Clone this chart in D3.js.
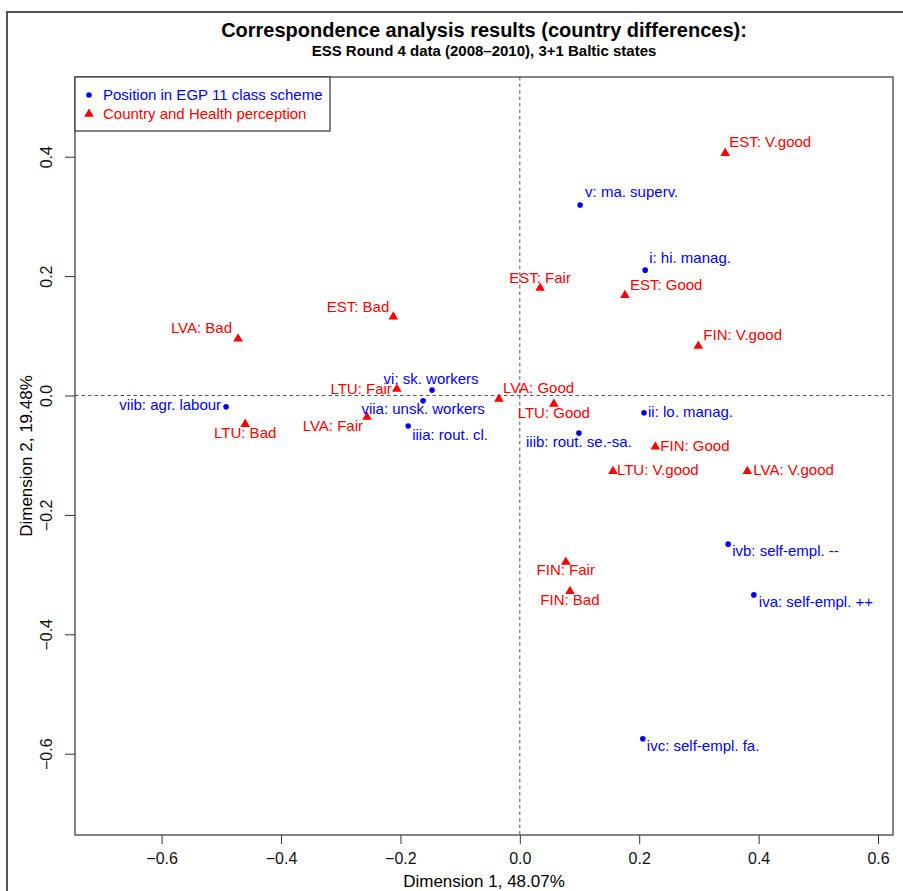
<!DOCTYPE html>
<html>
<head>
<meta charset="utf-8">
<script src="https://cdn.jsdelivr.net/npm/d3@7"></script>
<style>
  body { margin: 0; background: #fff; }
  text { font-family: "Liberation Sans", Arial, Helvetica, sans-serif; }
</style>
</head>
<body>
<script>
// EGP class positions (row points)
var rowLabels = ["i: hi. manag.", "ii: lo. manag.", "iiia: rout. cl.", "iiib: rout. se.-sa.",
                 "iva: self-empl. ++", "ivb: self-empl. --", "ivc: self-empl. fa.",
                 "v: ma. superv.", "vi: sk. workers", "viia: unsk. workers", "viib: agr. labour"];
var rowDim1 = [0.210, 0.208, -0.187, 0.099, 0.392, 0.349, 0.206, 0.101, -0.147, -0.162, -0.492];
var rowDim2 = [0.210, -0.029, -0.051, -0.063, -0.334, -0.249, -0.575, 0.319, 0.009, -0.009, -0.019];

// country x health perception (column points)
var colLabels = ["EST: V.good", "EST: Good", "EST: Fair", "EST: Bad",
                 "FIN: V.good", "FIN: Good", "FIN: Fair", "FIN: Bad",
                 "LTU: V.good", "LTU: Good", "LTU: Fair", "LTU: Bad",
                 "LVA: V.good", "LVA: Good", "LVA: Fair", "LVA: Bad"];
var colDim1 = [0.344, 0.176, 0.034, -0.212, 0.299, 0.227, 0.077, 0.084,
               0.156, 0.057, -0.206, -0.460, 0.381, -0.035, -0.256, -0.472];
var colDim2 = [0.406, 0.168, 0.180, 0.132, 0.083, -0.086, -0.279, -0.328,
               -0.127, -0.014, 0.011, -0.048, -0.127, -0.006, -0.036, 0.095];

var xTicks = [-0.6, -0.4, -0.2, 0.0, 0.2, 0.4, 0.6];
var yTicks = [-0.6, -0.4, -0.2, 0.0, 0.2, 0.4];

var legendLabels = ["Position in EGP 11 class scheme", "Country and Health perception"];

// label placement next to each point: [dx, dy, anchor]
var labelPos = {
  "i: hi. manag.": [4, -7, "start"], "ii: lo. manag.": [4, 4, "start"],
  "iiia: rout. cl.": [4, 14, "start"], "iiib: rout. se.-sa.": [0, 14, "middle"],
  "iva: self-empl. ++": [5, 12, "start"], "ivb: self-empl. --": [4, 12, "start"],
  "ivc: self-empl. fa.": [4, 12, "start"], "v: ma. superv.": [5, -8, "start"],
  "vi: sk. workers": [-1, -6, "middle"], "viia: unsk. workers": [0, 13, "middle"],
  "viib: agr. labour": [-5, 3, "end"],
  "EST: V.good": [4, -6, "start"], "EST: Good": [5, -5, "start"],
  "EST: Fair": [0, -5, "middle"], "EST: Bad": [-4, -5, "end"],
  "FIN: V.good": [5, -6, "start"], "FIN: Good": [5, 4, "start"],
  "FIN: Fair": [0, 13, "middle"], "FIN: Bad": [0, 14, "middle"],
  "LTU: V.good": [4, 4, "start"], "LTU: Good": [0, 14, "middle"],
  "LTU: Fair": [-5, 5, "end"], "LTU: Bad": [0, 14, "middle"],
  "LVA: V.good": [6, 4, "start"], "LVA: Good": [4, -6, "start"],
  "LVA: Fair": [-4, 14, "end"], "LVA: Bad": [-6, -6, "end"]
};

var rows = rowLabels.map(function(l, i) { return {label: l, x: rowDim1[i], y: rowDim2[i]}; });
var cols = colLabels.map(function(l, i) { return {label: l, x: colDim1[i], y: colDim2[i]}; });

var W = 903, H = 891;
var plot = {left: 75, right: 893, top: 77, bottom: 835};

var svg = d3.select("body").append("svg")
    .attr("width", W)
    .attr("height", H);

// outer frame
svg.append("rect")
    .attr("x", 7).attr("y", 12)
    .attr("width", 1000).attr("height", 1000)
    .attr("fill", "none")
    .attr("stroke", "#555")
    .attr("stroke-width", 2);

// same unit length on both axes
var xScale = d3.scaleLinear().domain([-0.7451, 0.6251]).range([plot.left, plot.right]);
var yScale = d3.scaleLinear().domain([-0.7362, 0.5335]).range([plot.bottom, plot.top]);

var fmt = d3.format(".1f");

// titles
svg.append("text")
    .attr("x", (plot.left + plot.right) / 2)
    .attr("y", 37)
    .attr("text-anchor", "middle")
    .style("font-weight", "bold")
    .style("font-size", "20px")
    .text("Correspondence analysis results (country differences):");

svg.append("text")
    .attr("x", (plot.left + plot.right) / 2)
    .attr("y", 56)
    .attr("text-anchor", "middle")
    .style("font-weight", "bold")
    .style("font-size", "15px")
    .text("ESS Round 4 data (2008\u20132010), 3+1 Baltic states");

// x axis
var gx = svg.append("g")
    .attr("transform", "translate(0," + plot.bottom + ")")
    .call(d3.axisBottom(xScale).tickValues(xTicks).tickFormat(fmt).tickSize(9).tickSizeOuter(0).tickPadding(9));
gx.select(".domain").remove();
gx.selectAll("line").attr("stroke", "#333");
gx.selectAll("text").style("font-size", "16px").attr("fill", "#111")
    .style("font-family", "'Liberation Sans', Arial, sans-serif");

// y axis (labels rotated, R style)
var gy = svg.append("g")
    .attr("transform", "translate(" + plot.left + ",0)")
    .call(d3.axisLeft(yScale).tickValues(yTicks).tickFormat(fmt).tickSize(10).tickSizeOuter(0));
gy.select(".domain").remove();
gy.selectAll("line").attr("stroke", "#333");
gy.selectAll("text")
    .attr("x", 0).attr("dy", 0)
    .attr("text-anchor", "middle")
    .attr("transform", "translate(-23,0) rotate(-90)")
    .style("font-size", "16px").attr("fill", "#111")
    .style("font-family", "'Liberation Sans', Arial, sans-serif");

// axis titles
svg.append("text")
    .attr("x", (plot.left + plot.right) / 2)
    .attr("y", 887)
    .attr("text-anchor", "middle")
    .style("font-size", "17px")
    .text("Dimension 1, 48.07%");

svg.append("text")
    .attr("transform", "translate(32," + (plot.top + plot.bottom) / 2 + ") rotate(-90)")
    .attr("text-anchor", "middle")
    .style("font-size", "17px")
    .text("Dimension 2, 19.48%");

// reference lines through the origin
svg.append("line")
    .attr("x1", xScale(0)).attr("x2", xScale(0))
    .attr("y1", plot.top).attr("y2", plot.bottom)
    .attr("stroke", "#555").attr("stroke-dasharray", "3.5,3");
svg.append("line")
    .attr("x1", plot.left).attr("x2", plot.right)
    .attr("y1", yScale(0)).attr("y2", yScale(0))
    .attr("stroke", "#555").attr("stroke-dasharray", "3.5,3");

// plot box
svg.append("rect")
    .attr("x", plot.left).attr("y", plot.top)
    .attr("width", plot.right - plot.left)
    .attr("height", plot.bottom - plot.top)
    .attr("fill", "none")
    .attr("stroke", "#333")
    .attr("stroke-width", 1.2);

var tri = d3.symbol().type(d3.symbolTriangle).size(40);

// row points
svg.selectAll(".dot")
    .data(rows)
  .enter().append("circle")
    .attr("class", "dot")
    .attr("cx", function(d) { return xScale(d.x); })
    .attr("cy", function(d) { return yScale(d.y); })
    .attr("r", 2.8)
    .attr("fill", "blue");

// column points
svg.selectAll(".tri")
    .data(cols)
  .enter().append("path")
    .attr("class", "tri")
    .attr("d", tri)
    .attr("transform", function(d) { return "translate(" + xScale(d.x) + "," + yScale(d.y) + ")"; })
    .attr("fill", "red");

function addLabels(data, color) {
  svg.selectAll(null)
      .data(data)
    .enter().append("text")
      .attr("x", function(d) { return xScale(d.x) + labelPos[d.label][0]; })
      .attr("y", function(d) { return yScale(d.y) + labelPos[d.label][1]; })
      .attr("text-anchor", function(d) { return labelPos[d.label][2]; })
      .style("font-size", "15px")
      .attr("fill", color)
      .text(function(d) { return d.label; });
}
addLabels(rows, "blue");
addLabels(cols, "red");

// legend
var legend = svg.append("g");
legend.append("rect")
    .attr("x", plot.left).attr("y", plot.top)
    .attr("width", 255).attr("height", 54)
    .attr("fill", "#fff")
    .attr("stroke", "#333")
    .attr("stroke-width", 1.2);
legend.append("circle")
    .attr("cx", 89).attr("cy", 95).attr("r", 2.8).attr("fill", "blue");
legend.append("path")
    .attr("d", tri)
    .attr("transform", "translate(89,114)")
    .attr("fill", "red");
legend.append("text")
    .attr("x", 103).attr("y", 100)
    .style("font-size", "15px").attr("fill", "blue")
    .text(legendLabels[0]);
legend.append("text")
    .attr("x", 103).attr("y", 119)
    .style("font-size", "15px").attr("fill", "red")
    .text(legendLabels[1]);
</script>
</body>
</html>
